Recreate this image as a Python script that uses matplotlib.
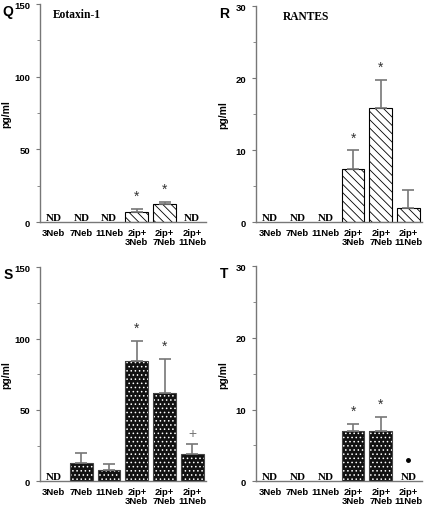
import numpy as np
import matplotlib.pyplot as plt
from matplotlib.ticker import MultipleLocator

plt.rcParams['font.family'] = ['Liberation Sans', 'DejaVu Sans']
plt.rcParams['hatch.linewidth'] = 0.6

# Categories shared by all panels
groups = ["3Neb", "7Neb", "11Neb", "2ip+\n3Neb", "2ip+\n7Neb", "2ip+\n11Neb"]

# Q: Eotaxin-1 (hatched bars)
eot_hatch = [0, 0, 0, 7.3, 12.3, 0]
eot_hatch_err = [0, 0, 0, 1.8, 1.9, 0]
eot_hatch_nd = [True, True, True, False, False, True]
eot_hatch_mark = ["", "", "", "*", "*", ""]

# R: RANTES (hatched bars)
ran_hatch = [0, 0, 0, 7.4, 15.9, 2.0]
ran_hatch_err = [0, 0, 0, 2.6, 3.9, 2.4]
ran_hatch_nd = [True, True, True, False, False, False]
ran_hatch_mark = ["", "", "", "*", "*", ""]

# S: Eotaxin-1 (dotted bars)
eot_dot = [0, 12.9, 8.0, 84.5, 61.5, 19.2]
eot_dot_err = [0, 7.1, 4.2, 14.1, 24.2, 6.8]
eot_dot_nd = [True, False, False, False, False, False]
eot_dot_mark = ["", "", "", "*", "*", "+"]

# T: RANTES (dotted bars)
ran_dot = [0, 0, 0, 7.05, 7.05, 0]
ran_dot_err = [0, 0, 0, 0.95, 1.95, 0]
ran_dot_nd = [True, True, True, False, False, True]
ran_dot_mark = ["", "", "", "*", "*", ""]
ran_dot_bullet = 3.0  # bullet above the 2ip+11Neb ND

fig = plt.figure(figsize=(4.24, 5.06), dpi=100)

panels = [
    ("Q", [0.094, 0.559, 0.392, 0.431], 150, 50, 25, eot_hatch, eot_hatch_err, eot_hatch_nd, eot_hatch_mark, "hatch", "Eotaxin-1", 0.08),
    ("R", [0.604, 0.559, 0.392, 0.427], 30, 10, 5, ran_hatch, ran_hatch_err, ran_hatch_nd, ran_hatch_mark, "hatch", "RANTES", 0.16),
    ("S", [0.094, 0.047, 0.392, 0.423], 150, 50, 25, eot_dot, eot_dot_err, eot_dot_nd, eot_dot_mark, "dot", None, 0),
    ("T", [0.604, 0.047, 0.392, 0.425], 30, 10, 5, ran_dot, ran_dot_err, ran_dot_nd, ran_dot_mark, "dot", None, 0),
]

x = np.arange(len(groups))
grey = "#777777"

for letter, rect, ymax, major, minor, vals, errs, nd, marks, style, title, tx in panels:
    ax = fig.add_axes(rect)
    vals = np.array(vals)
    errs = np.array(errs)
    show = ~np.array(nd)
    if style == "hatch":
        ax.bar(x[show], vals[show], width=0.82, facecolor="white",
               edgecolor="black", hatch="\\\\\\\\", linewidth=0.8)
    else:
        ax.bar(x[show], vals[show], width=0.82, facecolor="#111111",
               edgecolor="white", hatch="....", linewidth=0)
        ax.bar(x[show], vals[show], width=0.82, fill=False,
               edgecolor="#444444", linewidth=0.8)
    ax.errorbar(x[show], vals[show], yerr=[np.zeros(show.sum()), errs[show]],
                fmt="none", ecolor=grey, elinewidth=1.2, capsize=4, capthick=1.2)

    step = ymax / 30.0
    for i in range(len(groups)):
        if nd[i]:
            ax.text(x[i], 0, "ND", ha="center", va="bottom", fontsize=8,
                    fontweight="bold", family="Liberation Serif")
        if marks[i]:
            top = vals[i] + errs[i]
            if marks[i] == "*":
                ax.text(x[i], top + step * 0.8, "*", ha="center", va="bottom",
                        fontsize=10, color="#333333")
            else:
                ax.text(x[i], top + step * 0.6, "+", ha="center", va="bottom",
                        fontsize=10, color="#777777")
    if letter == "T":
        ax.plot(x[5], ran_dot_bullet, "o", color="black", markersize=2.5)

    ax.set_xlim(-0.5, 5.5)
    ax.set_ylim(0, ymax)
    ax.yaxis.set_major_locator(MultipleLocator(major))
    ax.yaxis.set_minor_locator(MultipleLocator(minor))
    ax.set_xticks(x)
    ax.set_xticklabels(groups, fontsize=6.8, fontweight="bold", linespacing=1.0)
    ax.tick_params(axis="x", length=0, pad=4)
    ax.tick_params(axis="y", which="major", length=3, width=0.8, color=grey,
                   labelsize=6.8, pad=4)
    for lbl in ax.get_yticklabels():
        lbl.set_fontweight("bold")
    ax.tick_params(axis="y", which="minor", length=2, width=0.6, color=grey)
    ax.spines["top"].set_visible(False)
    ax.spines["right"].set_visible(False)
    ax.spines["left"].set_color(grey)
    ax.spines["bottom"].set_color(grey)
    ax.spines["left"].set_linewidth(1.0)
    ax.spines["bottom"].set_linewidth(1.0)
    ax.set_ylabel("pg/ml", fontsize=7.5, fontweight="bold")
    ax.yaxis.set_label_coords(-0.17, 0.5)
    if title:
        ax.text(tx, 0.955, title, transform=ax.transAxes, ha="left", va="center",
                fontsize=8.3, fontweight="bold", family="Liberation Serif")
    ax.text(-0.19, 1.0, letter, transform=ax.transAxes, ha="center", va="top",
            fontsize=10, fontweight="bold")

fig.savefig("out.png", dpi=100)
